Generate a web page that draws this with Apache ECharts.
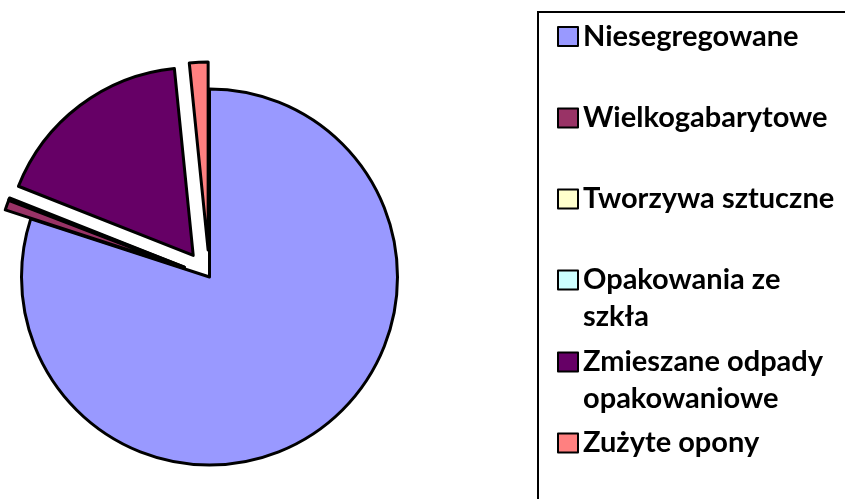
<!DOCTYPE html>
<html>
<head>
<meta charset="utf-8">
<script src="https://cdn.jsdelivr.net/npm/echarts@6/dist/echarts.min.js"></script>
<style>
  html, body { margin: 0; padding: 0; background: #fff; }
  #chart { width: 845px; height: 499px; }
</style>
</head>
<body>
<div id="chart"></div>
<script>
// categories and values (share in %)
var categories = ['Niesegregowane', 'Wielkogabarytowe', 'Tworzywa sztuczne',
                  'Opakowania ze szkła', 'Zmieszane odpady opakowaniowe', 'Zużyte opony'];
var values = [80.0, 0.85, 0.05, 0.1, 17.4, 1.6];
var colors = ['#9999FF', '#993366', '#FFFFCC', '#CCFFFF', '#660066', '#FF8080'];
// legend labels as they wrap in the picture (leading blank line keeps the marker on the first line)
var legendLabels = ['Niesegregowane', 'Wielkogabarytowe', 'Tworzywa sztuczne',
                    ' \nOpakowania ze\nszkła', ' \nZmieszane odpady\nopakowaniowe', 'Zużyte opony'];

var myChart = echarts.init(document.getElementById('chart'));

var legendTops = [18, 99.5, 180.5, 224.5, 306.5, 424.5];
var legends = categories.map(function(name, i) {
	return {
		orient: 'vertical',
		left: 557,
		top: legendTops[i],
		padding: 0,
		icon: 'rect',
		itemWidth: 20,
		itemHeight: 19,
		itemStyle: { borderColor: '#000', borderWidth: 2 },
		selectedMode: false,
		data: [name],
		formatter: function() { return legendLabels[i]; },
		textStyle: {
			fontFamily: 'Lato',
			fontWeight: 'bold',
			fontSize: 29,
			color: '#000',
			lineHeight: 37
		}
	};
});

var option = {
	animation: false,
	backgroundColor: '#fff',
	legend: legends,
	graphic: [{
		type: 'rect',
		z: -1,
		shape: { x: 538, y: 12, width: 400, height: 600 },
		style: { fill: 'none', stroke: '#000', lineWidth: 2 }
	}],
	series: [{
		type: 'pie',
		center: [209.5, 277],
		radius: 188,
		startAngle: 90,
		clockwise: true,
		selectedMode: 'multiple',
		selectedOffset: 27,
		avoidLabelOverlap: false,
		label: { show: false },
		labelLine: { show: false },
		emphasis: { disabled: true, scale: false },
		itemStyle: { borderColor: '#000', borderWidth: 3 },
		select: { itemStyle: { borderColor: '#000', borderWidth: 3 } },
		data: categories.map(function(name, i) {
			return {
				name: name,
				value: values[i],
				selected: i !== 0,
				itemStyle: { color: colors[i] }
			};
		})
	}]
};
myChart.setOption(option);
</script>
</body>
</html>
